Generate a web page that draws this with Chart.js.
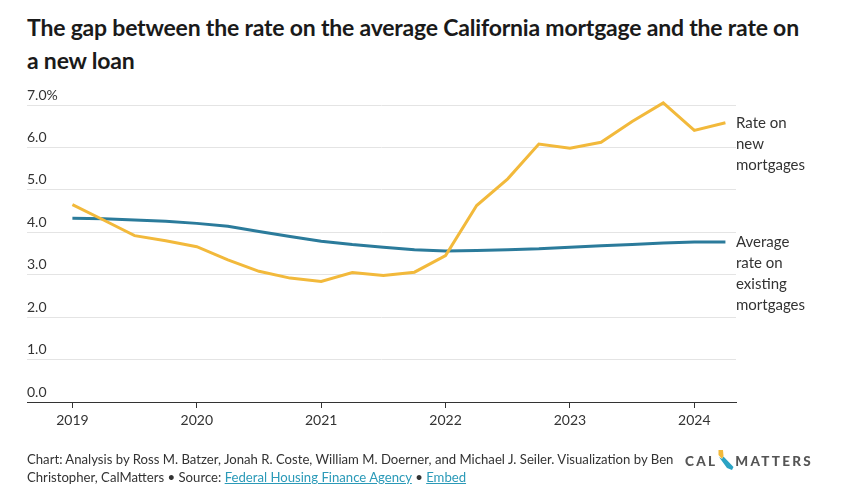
<!DOCTYPE html>
<html>
<head>
<meta charset="utf-8">
<script src="https://cdn.jsdelivr.net/npm/chart.js@4.4.1/dist/chart.umd.min.js"></script>
<style>
  html, body { margin: 0; padding: 0; background: #fff; }
  body { width: 846px; height: 490px; position: relative; overflow: hidden; font-family: Lato, "Noto Sans", sans-serif; color: #333; }
  #title { position: absolute; left: 27px; top: 11px; font-size: 23px; font-weight: 700; line-height: 33px; color: #1a1a1a; letter-spacing: -0.2px; }
  #wrap { position: absolute; left: 0; top: 0; width: 846px; height: 490px; }
  #footer { position: absolute; left: 27px; top: 450px; font-size: 13.15px; line-height: 18px; color: #333; }
  #footer a { color: #2b9ab8; text-decoration: underline; }
  #logo { position: absolute; left: 685px; top: 449px; height: 24px; display: flex; align-items: center; font-weight: 900; font-size: 13.5px; letter-spacing: 2.3px; color: #555; }
</style>
</head>
<body>
<div id="title">The gap between the rate on the average California mortgage and the rate on<br>a new loan</div>
<div id="wrap"><canvas id="chart"></canvas></div>
<div id="footer">Chart: Analysis by Ross M. Batzer, Jonah R. Coste, William M. Doerner, and Michael J. Seiler. Visualization by Ben<br>Christopher, CalMatters • Source: <a>Federal Housing Finance Agency</a> • <a>Embed</a></div>
<div id="logo">CAL<svg width="17" height="24" viewBox="0 0 17 24" style="margin-right:1px"><polygon points="1.5,1 6,1 6.5,7 5,10 1.5,6" fill="#f2b93b"/><polygon points="2,8 5,10 6.5,7.5 16.5,18 15,21 10,19" fill="#2ba3c4"/></svg>MATTERS</div>

<script>
// quarterly data, 2019 Q1 - 2024 Q2
const quarters = ['2019 Q1', '2019 Q2', '2019 Q3', '2019 Q4',
                  '2020 Q1', '2020 Q2', '2020 Q3', '2020 Q4',
                  '2021 Q1', '2021 Q2', '2021 Q3', '2021 Q4',
                  '2022 Q1', '2022 Q2', '2022 Q3', '2022 Q4',
                  '2023 Q1', '2023 Q2', '2023 Q3', '2023 Q4',
                  '2024 Q1', '2024 Q2'];

const newRate = [4.65, 4.29, 3.92, 3.80, 3.66, 3.35, 3.08, 2.92,
                 2.84, 3.05, 2.98, 3.06, 3.45, 4.63, 5.26, 6.08,
                 5.98, 6.12, 6.61, 7.05, 6.40, 6.58];

const avgRate = [4.33, 4.32, 4.29, 4.26, 4.21, 4.14, 4.02, 3.90,
                 3.79, 3.71, 3.65, 3.59, 3.56, 3.57, 3.59, 3.61,
                 3.65, 3.68, 3.71, 3.75, 3.77, 3.77];

const yearTicks = [2019, 2020, 2021, 2022, 2023, 2024];
const yTicks = [0, 1, 2, 3, 4, 5, 6, 7];

const seriesLabels = {
  newRate: ['Rate on', 'new', 'mortgages'],
  avgRate: ['Average', 'rate on', 'existing', 'mortgages']
};

const COLORS = { yellow: '#f2b93b', blue: '#2b7b9b', text: '#333', grid: '#e4e4e4' };
const FONT = 'Lato, "Noto Sans", sans-serif';

// '2019 Q3' -> 2019.5
function quarterToX(q) {
  const [year, qq] = q.split(' Q');
  return Number(year) + (Number(qq) - 1) / 4;
}

const toPoints = (values) => values.map((v, i) => ({ x: quarterToX(quarters[i]), y: v }));

// Draw the series names to the right of the last point
const endLabels = {
  id: 'endLabels',
  afterDatasetsDraw(chart) {
    const { ctx, chartArea, scales } = chart;
    ctx.save();
    ctx.font = '15px ' + FONT;
    ctx.fillStyle = COLORS.text;
    ctx.textBaseline = 'middle';
    ctx.textAlign = 'left';
    chart.data.datasets.forEach(ds => {
      const last = ds.data[ds.data.length - 1];
      const y = scales.y.getPixelForValue(last.y);
      ds.endText.forEach((line, i) => {
        ctx.fillText(line, chartArea.right, y + i * 21);
      });
    });
    ctx.restore();
  }
};

new Chart(document.getElementById('chart'), {
  type: 'line',
  data: {
    datasets: [
      {
        label: 'Rate on new mortgages',
        data: toPoints(newRate),
        endText: seriesLabels.newRate,
        borderColor: COLORS.yellow,
        borderWidth: 3,
        pointRadius: 0,
        tension: 0,
        clip: false
      },
      {
        label: 'Average rate on existing mortgages',
        data: toPoints(avgRate),
        endText: seriesLabels.avgRate,
        borderColor: COLORS.blue,
        borderWidth: 3,
        pointRadius: 0,
        tension: 0,
        clip: false
      }
    ]
  },
  options: {
    responsive: true,
    maintainAspectRatio: false,
    animation: false,
    layout: { padding: { left: 27, right: 110, top: 105, bottom: 58 } },
    plugins: {
      legend: { display: false },
      tooltip: { enabled: false }
    },
    scales: {
      x: {
        type: 'linear',
        min: 2018.635,
        max: 2024.335,
        afterFit: (s) => { s.height = 30; },
        afterBuildTicks: (s) => { s.ticks = yearTicks.map(v => ({ value: v })); },
        ticks: {
          color: COLORS.text,
          font: { family: FONT, size: 14 },
          padding: 4,
          maxRotation: 0,
          callback: (v) => String(v)
        },
        grid: { drawOnChartArea: false, drawTicks: true, tickLength: 6, color: COLORS.text },
        border: { display: true, color: COLORS.text, width: 1 }
      },
      y: {
        min: 0,
        max: 7,
        afterFit: (s) => { s.width = 0; },
        afterBuildTicks: (s) => { s.ticks = yTicks.map(v => ({ value: v })); },
        ticks: {
          mirror: true,
          padding: 0,
          labelOffset: -10,
          color: COLORS.text,
          font: { family: FONT, size: 14 },
          callback: (v) => v === 7 ? '7.0%' : v.toFixed(1)
        },
        grid: { color: COLORS.grid, drawTicks: false },
        border: { display: false }
      }
    }
  },
  plugins: [endLabels]
});
</script>
</body>
</html>
